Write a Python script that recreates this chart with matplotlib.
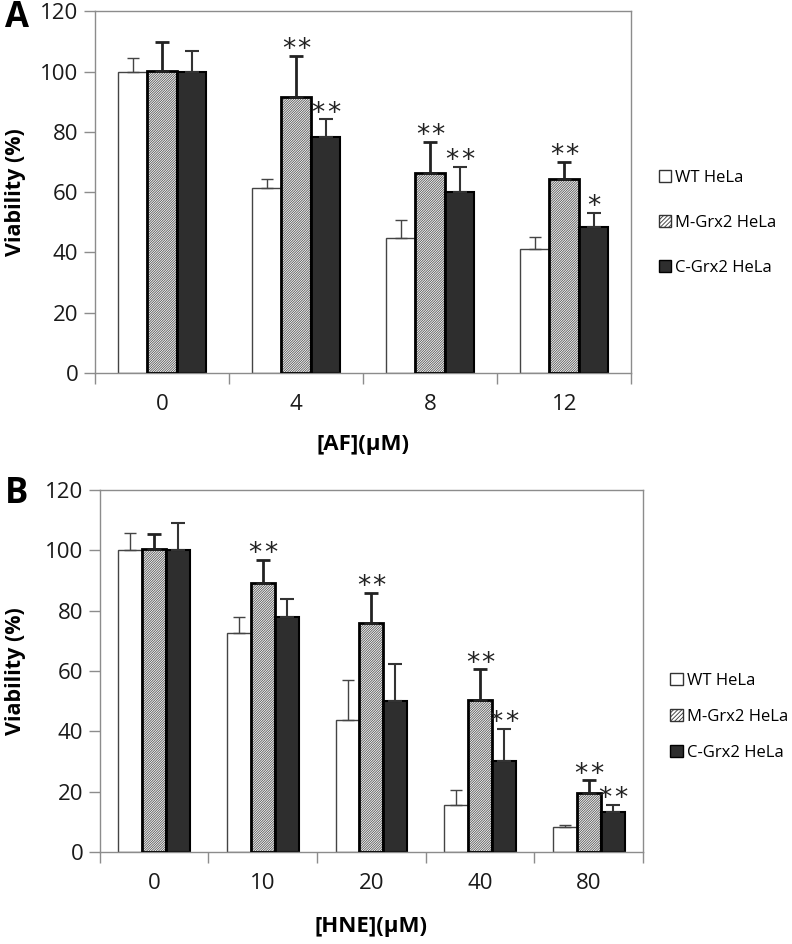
import matplotlib
matplotlib.use("Agg")
import matplotlib.pyplot as plt
from matplotlib.patches import Patch
import numpy as np

plt.rcParams['font.family'] = ['Open Sans', 'DejaVu Sans']
plt.rcParams['hatch.linewidth'] = 0.6

series = ['WT HeLa', 'M-Grx2 HeLa', 'C-Grx2 HeLa']

# panel A: auranofin
af_doses = ['0', '4', '8', '12']
af_wt = [100, 61.4, 44.7, 41.0]
af_wt_err = [4.4, 2.8, 6.0, 4.1]
af_m = [100.3, 91.5, 66.2, 64.5]
af_m_err = [9.6, 13.8, 10.4, 5.5]
af_c = [100, 78.4, 60.0, 48.5]
af_c_err = [6.9, 5.7, 8.3, 4.6]
af_m_sig = [0, 2, 2, 2]
af_c_sig = [0, 2, 2, 1]

# panel B: HNE
hne_doses = ['0', '10', '20', '40', '80']
hne_wt = [100, 72.6, 43.8, 15.5, 8.2]
hne_wt_err = [5.8, 5.3, 13.1, 5.1, 0.7]
hne_m = [100.3, 89.0, 75.8, 50.4, 19.4]
hne_m_err = [5.0, 7.8, 10.2, 10.2, 4.3]
hne_c = [100, 77.8, 49.9, 30.3, 13.1]
hne_c_err = [8.9, 5.9, 12.3, 10.6, 2.5]
hne_m_sig = [0, 2, 2, 2, 2]
hne_c_sig = [0, 0, 0, 2, 2]

spine_col = '#8c8c8c'
dark = '#2e2e2e'
hatch = '/' * 14
w = 0.22


def stars(ax, xv, top, n):
    # one asterisk per mark, spread a little apart like the original
    offs = [0] if n == 1 else [-5.6, 5.6]
    for dx in offs:
        ax.annotate('*', (xv, top), xytext=(dx, -1), textcoords='offset points',
                    ha='center', va='baseline', fontsize=19, color='#222222',
                    family='DejaVu Sans')


def panel(ax, doses, wt, wt_err, m, m_err, c, c_err, m_sig, c_sig, xlabel, ylab_x, xlab_y):
    x = np.arange(len(doses))
    # WT: white bars, thin edges
    ax.bar(x - w, wt, w, color='white', edgecolor='#444444', linewidth=1, zorder=2)
    ax.errorbar(x - w, wt, yerr=[np.zeros(len(wt)), wt_err], fmt='none',
                ecolor='#444444', elinewidth=1, capsize=4, capthick=1, zorder=3)
    # M: hatched bars, gray hatch, black thick edge
    ax.bar(x, m, w, color='white', edgecolor='#555555', hatch=hatch, linewidth=0, zorder=2)
    ax.bar(x, m, w, fill=False, edgecolor='black', linewidth=2, zorder=3)
    ax.errorbar(x, m, yerr=[np.zeros(len(m)), m_err], fmt='none',
                ecolor='#222222', elinewidth=2, capsize=5, capthick=2, zorder=3)
    # C: dark bars
    ax.bar(x + w, c, w, color=dark, edgecolor='black', linewidth=1.5, zorder=2)
    ax.errorbar(x + w, c, yerr=[np.zeros(len(c)), c_err], fmt='none',
                ecolor='#333333', elinewidth=1.5, capsize=5, capthick=1.5, zorder=3)

    for i in range(len(doses)):
        if m_sig[i]:
            stars(ax, x[i], m[i] + m_err[i], m_sig[i])
        if c_sig[i]:
            stars(ax, x[i] + w, c[i] + c_err[i], c_sig[i])

    ax.set_xlim(-0.5, len(doses) - 0.5)
    ax.set_ylim(0, 120)
    ax.set_yticks(range(0, 121, 20))
    ax.tick_params(axis='y', length=8, width=1, color=spine_col, pad=4,
                   labelsize=16, labelcolor='#1a1a1a')
    ax.set_xticks(np.arange(len(doses) + 1) - 0.5)
    ax.set_xticklabels([])
    ax.tick_params(axis='x', which='major', length=8, width=1, color=spine_col)
    ax.set_xticks(x, minor=True)
    ax.set_xticklabels(doses, minor=True)
    ax.tick_params(axis='x', which='minor', length=0, pad=15, labelsize=16,
                   labelcolor='#1a1a1a')
    for s in ax.spines.values():
        s.set_color(spine_col)
        s.set_linewidth(1)
    ax.set_ylabel('Viability (%)', fontsize=15.5, fontweight='bold', va='center')
    ax.yaxis.set_label_coords(ylab_x, 0.5)
    ax.set_xlabel(xlabel, fontsize=16, fontweight='bold')
    ax.xaxis.set_label_coords(0.5, xlab_y)


fig = plt.figure(figsize=(7.92, 9.44), dpi=100)
ax1 = fig.add_axes([0.120, 0.605, 0.677, 0.383])
ax2 = fig.add_axes([0.126, 0.0975, 0.686, 0.3835])

panel(ax1, af_doses, af_wt, af_wt_err, af_m, af_m_err, af_c, af_c_err,
      af_m_sig, af_c_sig, '[AF](μM)', -0.149, -0.17)
panel(ax2, hne_doses, hne_wt, hne_wt_err, hne_m, hne_m_err, hne_c, hne_c_err,
      hne_m_sig, hne_c_sig, '[HNE](μM)', -0.155, -0.176)

fig.text(17 / 792, 1 - 18 / 944, 'A', fontsize=25, fontweight='bold', ha='center', va='center')
fig.text(17 / 792, 1 - 494 / 944, 'B', fontsize=25, fontweight='bold', ha='center', va='center')

handles = [Patch(facecolor='white', edgecolor='#333333', linewidth=1),
           Patch(facecolor='white', edgecolor='#333333', hatch='/' * 8, linewidth=1),
           Patch(facecolor=dark, edgecolor='black', linewidth=1)]
for ax, y, sp in [(ax1, 223, 1.75), (ax2, 717, 1.2)]:
    fig.legend(handles, series, loc='center left',
               bbox_to_anchor=(ax.get_position().x1 + 0.024, 1 - y / 944),
               frameon=False, fontsize=12, handlelength=0.75, handleheight=0.75,
               handletextpad=0.25, labelspacing=sp, borderpad=0)

fig.savefig('out.png', dpi=100)
